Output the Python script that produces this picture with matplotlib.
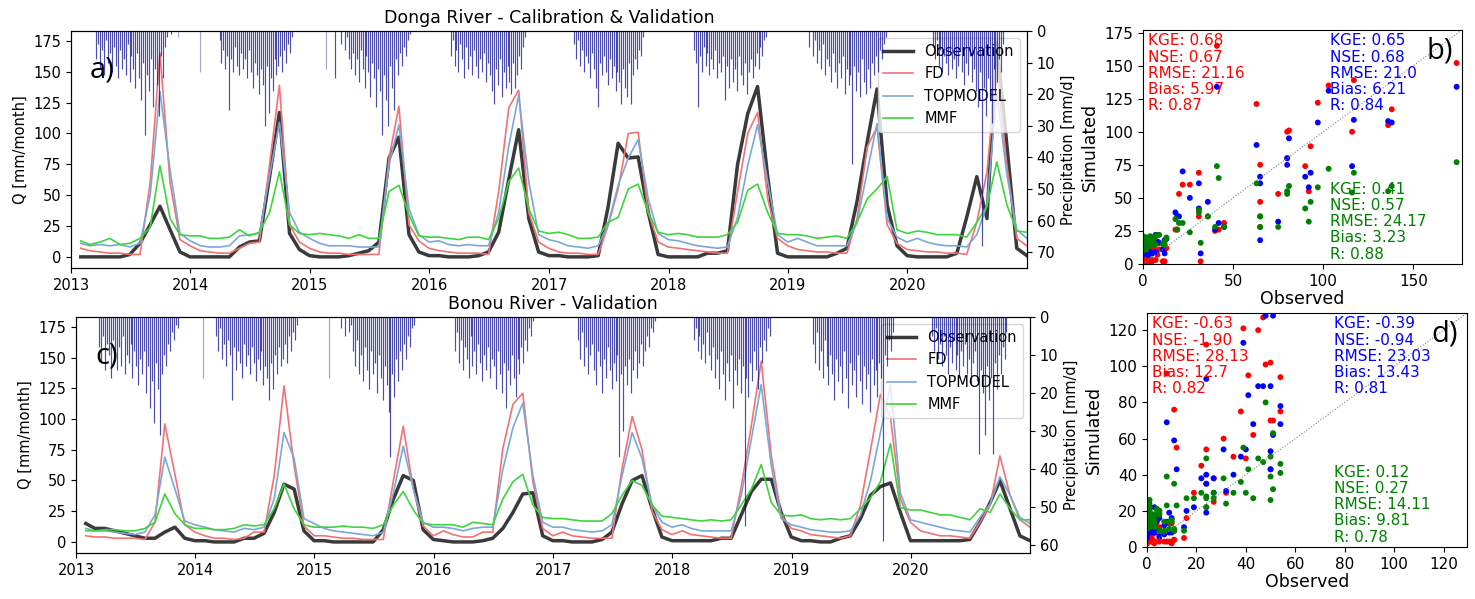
import matplotlib
matplotlib.use('Agg')
import matplotlib.pyplot as plt
import matplotlib.dates as mdates
from matplotlib.ticker import MultipleLocator
import numpy as np
import pandas as pd

# monthly discharge, Jan 2013 - Dec 2020 (mm/month), one row per year
months = pd.date_range('2013-01-01', periods=96, freq='MS') + pd.offsets.MonthEnd(0)
years = list(range(2013, 2021))

donga_obs = [0, 0, 0, 0, 0, 2, 11, 26, 41, 22, 4, 0,
             0, 0, 0, 0, 8, 12, 13, 65, 117, 19, 6, 1,
             0, 0, 0, 1, 3, 5, 12, 80, 97, 18, 4, 1,
             1, 0, 0, 0, 1, 4, 20, 63, 103, 31, 4, 1,
             1, 0, 0, 0, 1, 40, 92, 80, 81, 36, 2, 0,
             0, 0, 0, 3, 3, 5, 75, 116, 138, 65, 3, 0,
             0, 0, 0, 0, 3, 7, 45, 93, 136, 42, 9, 1,
             0, 0, 0, 0, 3, 32, 65, 31, 174, 90, 7, 1]
donga_fd = [7, 5, 4, 3, 3, 2, 2, 60, 165, 60, 14, 9,
            5, 4, 3, 3, 7, 11, 12, 75, 139, 26, 12, 7,
            4, 3, 3, 2, 2, 2, 2, 80, 122, 26, 13, 7,
            5, 4, 3, 3, 3, 2, 53, 121, 135, 36, 12, 7,
            4, 3, 3, 2, 2, 25, 55, 100, 101, 36, 12, 8,
            7, 6, 5, 4, 3, 3, 53, 100, 117, 47, 15, 9,
            6, 5, 4, 4, 3, 3, 31, 89, 105, 26, 11, 6,
            5, 4, 4, 3, 3, 2, 28, 69, 152, 74, 15, 9]
donga_top = [11, 9, 10, 9, 10, 8, 11, 50, 134, 70, 19, 13,
             9, 8, 8, 9, 17, 18, 19, 66, 109, 36, 20, 15,
             11, 9, 9, 9, 8, 8, 8, 75, 107, 39, 18, 12,
             13, 10, 9, 10, 9, 9, 36, 90, 131, 61, 18, 14,
             12, 9, 8, 7, 9, 26, 58, 80, 95, 47, 19, 14,
             13, 11, 9, 8, 7, 8, 32, 74, 107, 61, 18, 12,
             15, 12, 9, 9, 9, 9, 28, 69, 108, 31, 16, 12,
             15, 12, 10, 9, 9, 8, 18, 42, 134, 66, 22, 15]
donga_mmf = [13, 10, 12, 15, 10, 11, 15, 24, 74, 31, 18, 17,
             17, 15, 15, 16, 22, 17, 20, 36, 69, 26, 19, 18,
             19, 18, 17, 15, 18, 15, 15, 53, 58, 34, 17, 16,
             16, 15, 14, 16, 16, 14, 31, 61, 72, 39, 21, 19,
             20, 18, 15, 15, 16, 28, 32, 55, 59, 36, 20, 18,
             19, 18, 16, 16, 16, 18, 28, 54, 59, 36, 19, 18,
             18, 17, 15, 16, 17, 15, 28, 47, 55, 65, 22, 19,
             21, 20, 18, 18, 18, 16, 28, 41, 77, 42, 21, 20]

bonou_obs = [15, 11, 11, 9, 7, 5, 3, 3, 8, 12, 3, 1,
             1, 0, 0, 0, 3, 3, 7, 24, 47, 43, 9, 1,
             1, 0, 0, 0, 0, 0, 10, 35, 54, 50, 10, 2,
             1, 0, 0, 0, 1, 3, 11, 24, 39, 40, 5, 1,
             1, 0, 0, 0, 2, 8, 31, 50, 54, 27, 4, 1,
             1, 1, 1, 1, 3, 3, 22, 41, 51, 51, 24, 4,
             1, 1, 0, 0, 3, 5, 19, 38, 45, 48, 24, 1,
             1, 1, 1, 1, 1, 2, 16, 32, 50, 27, 5, 1]
bonou_fd = [5, 4, 4, 3, 3, 3, 2, 16, 96, 55, 14, 8,
            5, 3, 3, 2, 3, 8, 8, 54, 127, 62, 13, 5,
            5, 4, 3, 3, 2, 2, 2, 50, 94, 43, 13, 5,
            9, 6, 4, 4, 8, 8, 76, 112, 121, 49, 11, 5,
            8, 5, 4, 3, 3, 3, 60, 102, 75, 25, 10, 6,
            9, 6, 5, 4, 3, 3, 45, 95, 147, 70, 22, 11,
            9, 6, 5, 4, 3, 5, 30, 75, 120, 101, 35, 16,
            9, 7, 5, 5, 4, 3, 16, 30, 70, 38, 18, 12]
bonou_top = [11, 9, 9, 8, 7, 6, 8, 22, 69, 43, 17, 14,
             12, 10, 9, 8, 11, 10, 12, 35, 89, 68, 19, 15,
             11, 9, 8, 7, 6, 5, 8, 40, 78, 43, 16, 12,
             12, 11, 9, 11, 12, 12, 59, 93, 113, 54, 16, 12,
             12, 10, 9, 8, 9, 14, 54, 89, 68, 30, 16, 12,
             14, 11, 9, 9, 9, 9, 38, 84, 128, 62, 19, 14,
             12, 10, 9, 8, 8, 9, 22, 50, 89, 128, 40, 18,
             16, 14, 12, 10, 9, 8, 20, 31, 53, 38, 20, 15]
bonou_mmf = [9, 9, 10, 10, 9, 9, 11, 16, 39, 23, 14, 11,
             11, 10, 10, 11, 14, 13, 14, 27, 47, 27, 14, 12,
             12, 12, 13, 12, 12, 11, 14, 30, 41, 26, 15, 14,
             14, 14, 12, 16, 15, 14, 35, 49, 55, 30, 20, 19,
             19, 18, 17, 17, 17, 23, 38, 50, 46, 30, 21, 20,
             19, 18, 17, 18, 17, 18, 30, 43, 63, 32, 22, 21,
             22, 19, 18, 19, 18, 19, 27, 36, 49, 80, 28, 26,
             26, 24, 22, 22, 20, 18, 27, 24, 39, 27, 18, 18]

# precipitation (mm/d), sampled every 6 days from day 66 to day 312 of each year
rain_days = np.arange(66, 313, 6)
donga_rain = [
    [0, 0, 9, 4, 12, 6, 14, 3, 10, 7, 13, 5, 11, 15, 6, 12, 9, 14, 4, 16, 8,
     12, 18, 7, 15, 22, 10, 33, 14, 19, 9, 24, 12, 17, 27, 8, 15, 5, 2, 0, 1, 0],
    [0, 0, 0, 0, 3, 10, 6, 12, 8, 25, 9, 13, 5, 11, 14, 7, 12, 9, 15, 6, 13,
     18, 10, 14, 20, 12, 17, 30, 11, 26, 15, 19, 9, 14, 11, 8, 13, 6, 10, 4, 7, 2],
    [0, 0, 15, 0, 0, 4, 0, 6, 2, 9, 12, 7, 14, 9, 16, 6, 12, 18, 8, 13, 21,
     10, 15, 24, 12, 19, 33, 14, 22, 30, 11, 18, 25, 9, 14, 7, 11, 5, 8, 3, 1, 0],
    [8, 3, 11, 6, 13, 4, 9, 15, 5, 12, 8, 14, 6, 11, 15, 9, 13, 7, 16, 10, 14,
     19, 23, 12, 17, 9, 21, 13, 18, 11, 16, 20, 10, 18, 14, 8, 12, 5, 2, 0, 0, 0],
    [0, 0, 4, 9, 3, 11, 6, 13, 8, 10, 15, 7, 12, 18, 24, 10, 14, 8, 13, 17, 9,
     15, 11, 19, 13, 16, 23, 12, 18, 21, 10, 23, 14, 9, 12, 6, 8, 2, 0, 0, 0, 0],
    [0, 0, 6, 10, 24, 8, 13, 5, 11, 7, 14, 9, 12, 6, 15, 10, 13, 8, 22, 11, 18,
     9, 16, 12, 19, 8, 14, 17, 10, 20, 13, 9, 15, 11, 7, 12, 5, 8, 3, 2, 0, 0],
    [5, 0, 8, 3, 10, 6, 12, 4, 14, 9, 11, 16, 7, 13, 18, 10, 15, 8, 20, 12, 17,
     14, 42, 11, 19, 13, 21, 9, 16, 20, 12, 18, 10, 14, 8, 13, 6, 9, 4, 2, 0, 0],
    [0, 0, 5, 9, 3, 11, 6, 13, 8, 10, 14, 7, 12, 9, 15, 11, 6, 13, 17, 10, 14,
     8, 16, 12, 19, 24, 13, 68, 18, 27, 15, 22, 29, 12, 20, 16, 9, 13, 4, 0, 0, 0],
]
bonou_rain = [
    [0, 8, 12, 5, 14, 7, 10, 16, 6, 11, 14, 8, 13, 5, 15, 10, 12, 7, 16, 9, 13,
     18, 11, 15, 9, 20, 13, 24, 17, 28, 12, 19, 31, 15, 10, 13, 7, 9, 4, 6, 2, 3],
    [5, 9, 3, 11, 7, 13, 6, 10, 22, 8, 14, 9, 12, 16, 7, 13, 10, 15, 8, 12, 17,
     11, 14, 9, 18, 13, 16, 22, 12, 19, 10, 15, 8, 13, 11, 7, 12, 5, 9, 4, 6, 2],
    [0, 0, 0, 3, 0, 5, 0, 4, 2, 9, 13, 6, 15, 10, 17, 8, 14, 19, 9, 15, 12,
     20, 10, 16, 22, 13, 18, 25, 37, 15, 21, 11, 17, 9, 14, 7, 11, 5, 8, 3, 2, 0],
    [9, 4, 12, 6, 14, 8, 11, 16, 5, 13, 9, 15, 7, 12, 17, 10, 14, 8, 16, 11, 13,
     19, 9, 15, 20, 12, 24, 14, 18, 10, 16, 21, 11, 15, 8, 12, 6, 9, 3, 5, 1, 0],
    [0, 0, 6, 11, 4, 13, 8, 15, 10, 7, 14, 18, 9, 13, 20, 11, 16, 8, 14, 19, 12,
     17, 10, 37, 15, 30, 13, 18, 11, 20, 14, 9, 16, 12, 7, 13, 9, 5, 8, 3, 4, 1],
    [6, 3, 9, 5, 11, 7, 12, 4, 10, 14, 8, 16, 11, 19, 9, 15, 22, 12, 17, 10, 24,
     14, 18, 11, 20, 13, 55, 16, 21, 12, 17, 9, 14, 19, 8, 12, 6, 9, 3, 5, 0, 0],
    [7, 12, 4, 14, 9, 16, 6, 13, 18, 10, 15, 22, 11, 17, 13, 20, 9, 16, 24, 12, 18,
     14, 21, 10, 17, 23, 13, 19, 15, 25, 11, 18, 14, 21, 12, 16, 59, 10, 13, 6, 9, 4],
    [5, 9, 3, 11, 7, 13, 5, 10, 15, 8, 12, 6, 14, 10, 16, 9, 13, 7, 15, 11, 18,
     12, 9, 17, 36, 14, 20, 31, 13, 22, 16, 36, 12, 19, 10, 15, 8, 11, 4, 0, 0, 0],
]
# isolated dry-season rain days (date, mm/d)
donga_rain_extra = [('2013-11-24', 2), ('2014-01-30', 13), ('2015-02-20', 12)]
bonou_rain_extra = [('2014-01-24', 16), ('2015-02-16', 16)]

# goodness-of-fit text: KGE, NSE, RMSE, Bias, R
donga_stats = {'FD': ['0.68', '0.67', '21.16', '5.97', '0.87'],
               'TOPMODEL': ['0.65', '0.68', '21.0', '6.21', '0.84'],
               'MMF': ['0.41', '0.57', '24.17', '3.23', '0.88']}
bonou_stats = {'FD': ['-0.63', '-1.90', '28.13', '12.7', '0.82'],
               'TOPMODEL': ['-0.39', '-0.94', '23.03', '13.43', '0.81'],
               'MMF': ['0.12', '0.27', '14.11', '9.81', '0.78']}
stat_names = ['KGE', 'NSE', 'RMSE', 'Bias', 'R']

line_colors = {'Observation': '#3a3a3a', 'FD': '#f07272', 'TOPMODEL': '#7aa8d6', 'MMF': '#3ed43e'}
rain_color = '#00008b'


def plot_series(ax, obs, fd, top, mmf, rain, extra, rain_max, title, letter):
    ax.plot(months, obs, color=line_colors['Observation'], lw=2.5, label='Observation')
    ax.plot(months, fd, color=line_colors['FD'], lw=1.2, label='FD')
    ax.plot(months, top, color=line_colors['TOPMODEL'], lw=1.2, label='TOPMODEL')
    ax.plot(months, mmf, color=line_colors['MMF'], lw=1.2, label='MMF')
    ax.set_xlim(pd.Timestamp('2013-01-01'), months[-1])
    ax.set_ylim(-9, 183)
    ax.set_ylabel('Q [mm/month]', fontsize=10.5)
    ax.set_title(title, fontsize=12.5)
    ax.xaxis.set_major_locator(mdates.YearLocator())
    ax.xaxis.set_major_formatter(mdates.DateFormatter('%Y'))
    ax.tick_params(labelsize=10.5)
    ax.legend(loc='upper right', fontsize=10.5)
    ax.text(0.02, 0.835, letter, transform=ax.transAxes, fontsize=21,
            va='center', family=['Open Sans', 'DejaVu Sans'])

    # Precipitation hanging from the top on an inverted twin axis
    ax2 = ax.twinx()
    for yr, vals in zip(years, rain):
        days = pd.Timestamp(f'{yr}-01-01') + pd.to_timedelta(rain_days - 1, unit='D')
        ax2.vlines(days, 0, vals, color=rain_color, alpha=0.7, lw=0.85)
    ex_days = pd.to_datetime([e[0] for e in extra])
    ax2.vlines(ex_days, 0, [e[1] for e in extra], color=rain_color, alpha=0.35, lw=0.85)
    ax2.set_ylim(rain_max, 0)
    ax2.set_ylabel('Precipitation [mm/d]', fontsize=10.5)
    ax2.tick_params(labelsize=10.5)


def plot_scatter(ax, obs, fd, top, mmf, lim, step, stats, letter):
    ax.scatter(obs, fd, color='red', s=18, edgecolors='none')
    ax.scatter(obs, top, color='blue', s=18, edgecolors='none')
    ax.scatter(obs, mmf, color='green', s=18, edgecolors='none')
    ax.plot([0, lim], [0, lim], color='gray', ls=':', lw=0.8)
    ax.set_xlim(0, lim)
    ax.set_ylim(0, lim)
    ax.xaxis.set_major_locator(MultipleLocator(step[0]))
    ax.yaxis.set_major_locator(MultipleLocator(step[1]))
    ax.set_xlabel('Observed', fontsize=12.5, labelpad=1)
    ax.set_ylabel('Simulated', fontsize=12.5)
    ax.tick_params(labelsize=11)

    def block(name):
        return '\n'.join(f'{n}: {v}' for n, v in zip(stat_names, stats[name]))

    style = dict(transform=ax.transAxes, ha='left', fontsize=11, linespacing=1.1)
    ax.text(0.015, 0.985, block('FD'), color='red', va='top', **style)
    ax.text(0.585, 0.985, block('TOPMODEL'), color='blue', va='top', **style)
    ax.text(0.585, 0.01, block('MMF'), color='green', va='bottom', **style)
    ax.text(0.93, 0.91, letter, transform=ax.transAxes, fontsize=21,
            va='center', ha='center', family=['Open Sans', 'DejaVu Sans'])


fig = plt.figure(figsize=(14.75, 5.99), dpi=100)
ax_a = fig.add_axes([0.0481, 0.5526, 0.6481, 0.3957])
ax_c = fig.add_axes([0.0515, 0.0768, 0.6468, 0.3940])
ax_b = fig.add_axes([0.7749, 0.5593, 0.2163, 0.3907])
ax_d = fig.add_axes([0.7776, 0.0868, 0.2170, 0.3907])

plot_series(ax_a, donga_obs, donga_fd, donga_top, donga_mmf, donga_rain, donga_rain_extra,
            75, 'Donga River - Calibration & Validation', 'a)')
plot_series(ax_c, bonou_obs, bonou_fd, bonou_top, bonou_mmf, bonou_rain, bonou_rain_extra,
            62.2, 'Bonou River - Validation', 'c)')
plot_scatter(ax_b, donga_obs, donga_fd, donga_top, donga_mmf, 177, (50, 25), donga_stats, 'b)')
plot_scatter(ax_d, bonou_obs, bonou_fd, bonou_top, bonou_mmf, 129.5, (20, 20), bonou_stats, 'd)')

fig.savefig('out.png', dpi=100)
